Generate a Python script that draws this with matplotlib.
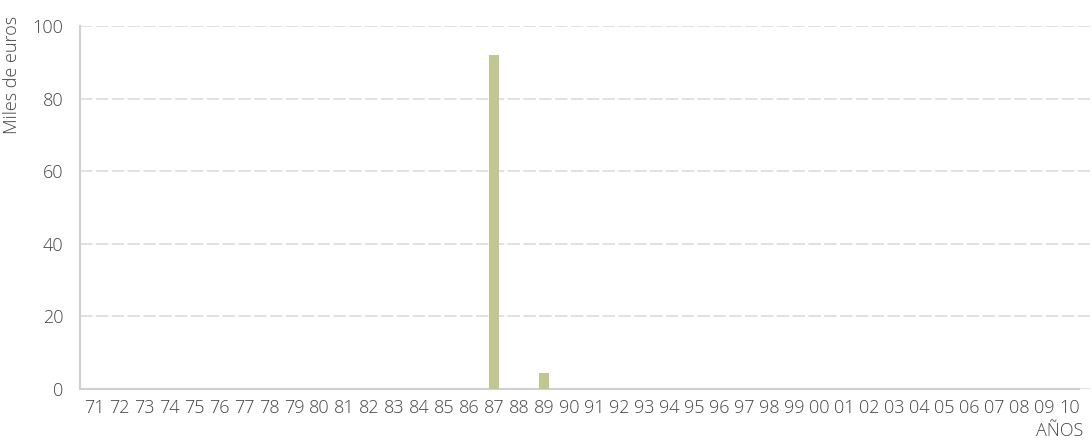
import matplotlib.pyplot as plt
import numpy as np

plt.rcParams['font.family'] = ['Open Sans', 'DejaVu Sans']

# Years 1971-2010, two-digit labels
years = ['71', '72', '73', '74', '75', '76', '77', '78', '79', '80',
         '81', '82', '83', '84', '85', '86', '87', '88', '89', '90',
         '91', '92', '93', '94', '95', '96', '97', '98', '99', '00',
         '01', '02', '03', '04', '05', '06', '07', '08', '09', '10']
values = [0] * len(years)
values[years.index('87')] = 92
values[years.index('89')] = 4.4

text_col = '#444444'
grid_col = '#dcdcdc'

fig = plt.figure(figsize=(10.92, 4.47), dpi=100)
ax = fig.add_axes([0.0733, 0.13, 0.9267, 0.812])

x = np.arange(len(years))
ax.bar(x, values, width=0.4, color='#c2c690', zorder=3)

# gridlines run to the right edge, the baseline stops at the last year
ax.set_xlim(-0.56, 39.9)
ax.set_ylim(0, 100)
ax.set_yticks([0, 20, 40, 60, 80, 100])
ax.set_xticks(x)
ax.set_xticklabels(years)
ax.tick_params(axis='both', length=0, labelsize=13, colors=text_col)
ax.tick_params(axis='y', pad=12)
ax.tick_params(axis='x', pad=7)
for lbl in ax.get_xticklabels() + ax.get_yticklabels():
    lbl.set_fontweight('light')

ax.yaxis.grid(True, linestyle=(0, (7.5, 2)), color=grid_col, linewidth=1.2, zorder=0)
for side in ['top', 'right']:
    ax.spines[side].set_visible(False)
for side in ['left', 'bottom']:
    ax.spines[side].set_color('#d0d0d0')
    ax.spines[side].set_linewidth(1.5)
ax.spines['bottom'].set_bounds(-0.56, 39.4)

ax.set_ylabel('Miles de euros', color=text_col, fontsize=13, fontweight='light')
ax.yaxis.set_label_coords(-0.058, 0.865)
fig.text(0.992, 0.035, 'AÑOS', ha='right', va='center', color=text_col,
         fontsize=13, fontweight='light')

fig.savefig('out.png', dpi=100)
